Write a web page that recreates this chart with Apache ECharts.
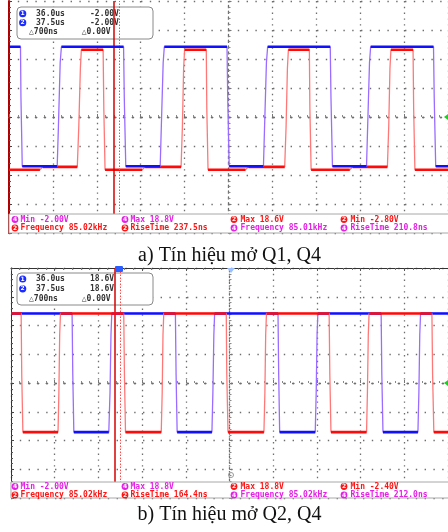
<!DOCTYPE html>
<html><head><meta charset="utf-8">
<script src="https://cdn.jsdelivr.net/npm/echarts@6/dist/echarts.min.js"></script>
<style>html,body{margin:0;padding:0;background:#fff}#c{width:448px;height:532px}</style>
</head><body><div id="c"></div>
<script>
// ---------- data (time in microseconds, voltage in volts) ----------
const aBlueT = [0,1.31,1.36,1.51,5.49,5.63,5.83,5.97, 13.05,13.13,13.30,17.22,17.35,17.56,17.69, 24.83,24.91,25.08,28.98,29.11,29.32,29.46, 36.59,36.67,36.84,40.72,40.85,41.06,41.19, 48.35,48.43,48.60,50];
const aBlueV = [18.7,18.7,10,-1.9,-1.9,5,16,18.7, 18.7,10,-1.9,-1.9,5,16,18.7, 18.7,10,-1.9,-1.9,5,16,18.7, 18.7,10,-1.9,-1.9,5,16,18.7, 18.7,10,-1.9,-1.9];
const aRedT = [0,3.52,3.86,7.78,7.95,8.13,8.24, 10.72,10.80,10.94,15.17,15.51,19.60,19.75,19.89,20.00, 22.47,22.53,22.67,26.93,27.27,31.40,31.56,31.71,31.82, 34.21,34.27,34.41,38.81,39.15,43.10,43.25,43.39,43.50, 46.02,46.09,46.23,50];
const aRedV = [-2.5,-2.5,-2.0,-2.0,5,15,18.2, 18.2,8,-2.5,-2.5,-2.0,-2.0,5,15,18.2, 18.2,8,-2.5,-2.5,-2.0,-2.0,5,15,18.2, 18.2,8,-2.5,-2.5,-2.0,-2.0,5,15,18.2, 18.2,8,-2.5,-2.5];
const bRedT = [0,1.16,1.23,1.36,5.38,5.48,5.57,5.66, 12.90,12.98,13.10,17.19,17.30,17.39,17.48, 24.63,24.69,24.83,28.94,29.05,29.14,29.23, 36.40,36.48,36.61,40.68,40.78,40.88,40.97, 48.16,48.24,48.38,50];
const bRedV = [18.7,18.7,8,-1.95,-1.95,5,15,18.7, 18.7,8,-1.95,-1.95,5,15,18.7, 18.7,8,-1.95,-1.95,5,15,18.7, 18.7,8,-1.95,-1.95,5,15,18.7, 18.7,8,-1.95,-1.95];
const bBlueT = [0,6.99,7.07,7.19,11.19,11.33,11.44,11.53, 18.81,18.89,19.01,22.99,23.10,23.21,23.30, 30.55,30.63,30.74,34.81,34.92,35.02,35.11, 42.35,42.43,42.56,46.56,46.67,46.77,46.86,50];
const bBlueV = [18.7,18.7,8,-1.95,-1.95,5,15,18.7, 18.7,8,-1.95,-1.95,5,15,18.7, 18.7,8,-1.95,-1.95,5,15,18.7, 18.7,8,-1.95,-1.95,5,15,18.7,18.7];
const aCursors = [11.97, 12.61];
const bCursors = [11.88, 12.47];
const titles = ['a) Tín hiệu mở Q1, Q4', 'b) Tín hiệu mở Q2, Q4'];
const aCursorRows = [['1','36.0us','-2.00V'],['2','37.5us','-2.00V']];
const bCursorRows = [['1','36.0us','18.6V'],['2','37.5us','18.6V']];
const cursorDelta = ['△700ns','△0.00V'];
const aMeasRow1 = [['4','Min -2.00V'],['4','Max 18.8V'],['2','Max 18.6V'],['2','Min -2.80V']];
const aMeasRow2 = [['2','Frequency 85.02kHz'],['2','RiseTime 237.5ns'],['4','Frequency 85.01kHz'],['4','RiseTime 210.8ns']];
const bMeasRow1 = [['4','Min -2.00V'],['4','Max 18.8V'],['2','Max 18.8V'],['2','Min -2.40V']];
const bMeasRow2 = [['2','Frequency 85.02kHz'],['2','RiseTime 164.4ns'],['4','Frequency 85.02kHz'],['4','RiseTime 212.0ns']];

// ---------- styling / layout ----------
const chColor = {'1':'#1a2cff','2':'#ff1414','4':'#e61ee6'};
const blueLevel = '#1010ff', blueEdge = '#9a6cff', redLevel = '#ff0a0a', redEdge = '#ff7878';
const panels = [
  {left:9, top:1, width:440, height:232, border:'#b00000', borderW:2, measY:214, measH:19, rowY:[219.5,228], boxY:7, rowsOff:[6.7,15.7,25.3],
   cursors:aCursors, cursorRows:aCursorRows, meas:[aMeasRow1,aMeasRow2], series:[['red',aRedT,aRedV],['blue',aBlueT,aBlueV]], titleY:256},
  {left:11, top:268, width:440, height:230, border:'#333', borderW:1, measY:482, measH:16, rowY:[486.5,495], boxY:273, rowsOff:[6,15.8,25.5],
   cursors:bCursors, cursorRows:bCursorRows, meas:[bMeasRow1,bMeasRow2], series:[['blue',bBlueT,bBlueV],['red',bRedT,bRedV]], titleY:515}
];

function pairs(T,V){ return T.map((t,i)=>[t,V[i]]); }
function levels(T,V){ const out=[]; for(let i=0;i<T.length-1;i++){ if(V[i]===V[i+1]){ out.push([T[i],V[i]],[T[i+1],V[i+1]],[T[i+1],'-']); } } return out; }

const grid=[], xAxis=[], yAxis=[], series=[], graphic=[];
const dotH = {color:'#6e6e6e', width:1.3, type:[1.4,7.4]};
const dotV = {color:'#6e6e6e', width:1.3, type:[1.4,4.4]};
panels.forEach((p,i)=>{
  grid.push({left:p.left, top:p.top, width:p.width, height:p.height, containLabel:false});
  const xDiv = xAxis.length, yDiv = yAxis.length;
  xAxis.push({gridIndex:i, type:'value', min:-5, max:5, interval:1, axisLabel:{show:false},
    splitLine:{show:true, lineStyle:dotV},
    axisLine:{show:true, onZero:true, onZeroAxisIndex:yDiv, lineStyle:{color:'#6e6e6e', width:1.3, type:[1.4,7.4]}},
    axisTick:{show:true, inside:true, length:3, lineStyle:{color:'#777'}},
    minorTick:{show:true, splitNumber:5, length:2, lineStyle:{color:'#888'}}});
  const xData = xAxis.length;
  xAxis.push({gridIndex:i, type:'value', min:0, max:50, show:false});
  if(i===1){
    xAxis.push({gridIndex:i, type:'value', min:-5, max:5, interval:1, position:'top', axisLabel:{show:false}, splitLine:{show:false},
      axisLine:{show:true, onZero:false, lineStyle:{color:'#333', width:1}},
      axisTick:{show:true, inside:true, length:3, lineStyle:{color:'#555'}},
      minorTick:{show:true, splitNumber:5, length:2, lineStyle:{color:'#777'}}});
  }
  yAxis.push({gridIndex:i, type:'value', min:-4, max:4, interval:1, position:'left', axisLabel:{show:false},
    splitLine:{show:true, lineStyle:dotH},
    axisLine:{show:true, onZero:true, onZeroAxisIndex:xDiv, lineStyle:{color:'#6e6e6e', width:1.3, type:[1.4,4.4]}},
    axisTick:{show:true, inside:true, length:3, lineStyle:{color:'#777'}},
    minorTick:{show:true, splitNumber:5, length:2, lineStyle:{color:'#888'}}});
  yAxis.push({gridIndex:i, type:'value', min:-4, max:4, interval:1, position:'left', axisLabel:{show:false}, splitLine:{show:false},
    axisLine:{show:true, onZero:false, lineStyle:{color:p.border, width:p.borderW}},
    axisTick:{show:true, inside:true, length:3, lineStyle:{color:'#444'}},
    minorTick:{show:true, splitNumber:5, length:2, lineStyle:{color:'#555'}}});
  const yData = yAxis.length;
  yAxis.push({gridIndex:i, type:'value', min:-13.4, max:26.6, show:false});

  p.series.forEach((s,k)=>{
    const [ch,T,V] = s;
    const edge = ch==='blue'?blueEdge:redEdge, lev = ch==='blue'?blueLevel:redLevel;
    const base = {type:'line', xAxisIndex:xData, yAxisIndex:yData, symbol:'none', showSymbol:false, silent:true, animation:false};
    const e = Object.assign({}, base, {data:pairs(T,V), lineStyle:{color:edge, width:1.3}, z:3+k*2});
    if(k===0){
      e.markLine = {symbol:'none', silent:true, animation:false, label:{show:false},
        data:[{xAxis:p.cursors[0], lineStyle:{color:'#d40000', width:1.5, type:'solid'}},
              {xAxis:p.cursors[1], lineStyle:{color:'#ff4a4a', width:1, type:[1.5,1.5]}}]};
    }
    series.push(e);
    series.push(Object.assign({}, base, {data:levels(T,V), connectNulls:false, lineStyle:{color:lev, width:2.6}, z:4+k*2}));
  });

  // cursor readout box
  const bx=17, by=p.boxY;
  graphic.push({type:'rect', z:1, shape:{x:bx, y:by, width:136, height:32, r:4}, style:{fill:'#fff', stroke:'#8a8a8a', lineWidth:1}});
  p.cursorRows.forEach((r,j)=>{
    const cy = by + p.rowsOff[j];
    graphic.push({type:'circle', z:1, shape:{cx:22.7, cy:cy, r:3.6}, style:{fill:chColor['1']}});
    graphic.push({type:'text', z:1, x:22.7, y:cy, style:{text:r[0], fill:'#fff', font:'bold 6px "DejaVu Sans"', textAlign:'center', textVerticalAlign:'middle'}});
    graphic.push({type:'text', z:1, x:36, y:cy, style:{text:r[1], fill:'#333', font:'bold 8px "DejaVu Sans Mono"', textVerticalAlign:'middle'}});
    graphic.push({type:'text', z:1, x:90, y:cy, style:{text:r[2], fill:'#333', font:'bold 8px "DejaVu Sans Mono"', textVerticalAlign:'middle'}});
  });
  [[29,cursorDelta[0]],[81.7,cursorDelta[1]]].forEach(d=>{
    graphic.push({type:'text', z:1, x:d[0], y:by+p.rowsOff[2], style:{text:d[1], fill:'#333', font:'bold 8px "DejaVu Sans Mono"', textVerticalAlign:'middle'}});
  });

  // measurement strip
  graphic.push({type:'rect', z:10, shape:{x:p.left, y:p.measY, width:448-p.left+2, height:p.measH}, style:{fill:'#fff', stroke:'#a8a8a8', lineWidth:1}});
  const iconX=[15,125,234,344], textX=[20.5,130.5,240.5,350.5];
  p.meas.forEach((row,r)=>{
    row.forEach((m,c)=>{
      const col = chColor[m[0]], cy=p.rowY[r];
      graphic.push({type:'circle', z:11, shape:{cx:iconX[c], cy:cy, r:3.4}, style:{fill:col}});
      graphic.push({type:'text', z:12, x:iconX[c], y:cy, style:{text:m[0], fill:'#fff', font:'bold 6px "DejaVu Sans"', textAlign:'center', textVerticalAlign:'middle'}});
      graphic.push({type:'text', z:12, x:textX[c], y:cy, style:{text:m[1], fill:col, font:'bold 8px "DejaVu Sans Mono"', textVerticalAlign:'middle'}});
    });
  });

  // title under each panel
  graphic.push({type:'text', z:12, x:229.5, y:p.titleY, style:{text:titles[i], fill:'#111', font:'20px "Liberation Serif"', textAlign:'center', textVerticalAlign:'middle'}});

  // small scope markers
  const midY = p.top + p.height/2;
  graphic.push({type:'polygon', z:5, shape:{points:[[448,midY-3],[448,midY+3],[444,midY]]}, style:{fill:'#22cc22'}});
});
// panel b extras: cursor tag and trigger marker
graphic.push({type:'rect', z:6, shape:{x:115, y:266, width:8, height:6, r:1}, style:{fill:'#2a5cff'}});
graphic.push({type:'polygon', z:6, shape:{points:[[227,268],[235,268],[231,273]]}, style:{fill:'#9cc0ff'}});
graphic.push({type:'circle', z:6, shape:{cx:231, cy:475, r:2.5}, style:{fill:'none', stroke:'#999', lineWidth:1}});

const chart = echarts.init(document.getElementById('c'), null, {renderer:'canvas'});
chart.setOption({animation:false, backgroundColor:'#fff', grid, xAxis, yAxis, series, graphic});
</script></body></html>
